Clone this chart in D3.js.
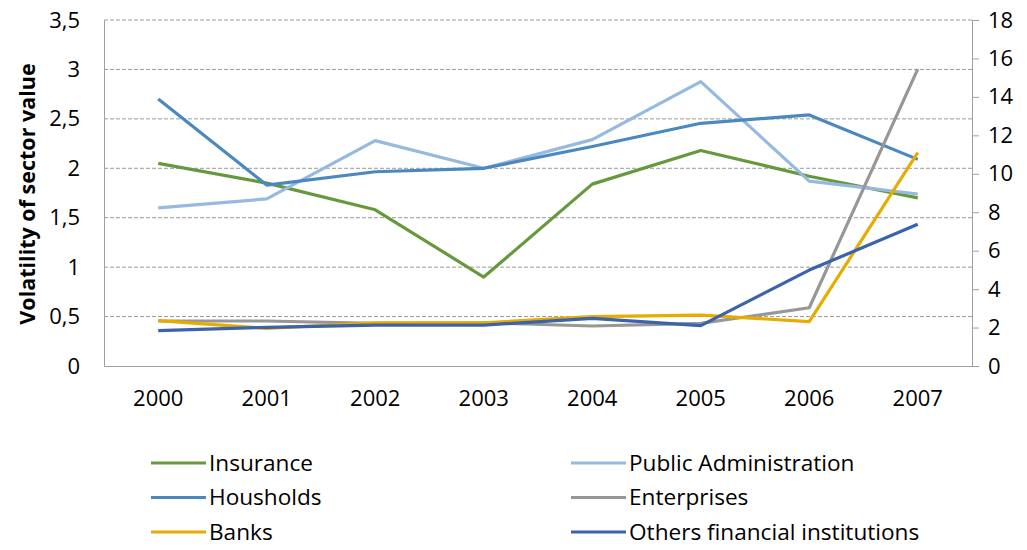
<!DOCTYPE html>
<html><head><meta charset="utf-8">
<script src="https://cdn.jsdelivr.net/npm/d3@7"></script>
<style>
body{margin:0;background:#fff;}
svg{display:block;font-family:"Open Sans",Lato,sans-serif;}
</style></head>
<body><svg id="c" width="1027" height="550"></svg>
<script>
const years = ["2000","2001","2002","2003","2004","2005","2006","2007"];
const leftTicks = [0,0.5,1,1.5,2,2.5,3,3.5];
const rightTicks = [0,2,4,6,8,10,12,14,16,18];
// primary axis series
const insurance = [2.05,1.85,1.58,0.90,1.84,2.18,1.92,1.70];
const publicAdmin = [1.60,1.69,2.28,2.00,2.29,2.876,1.87,1.74];
const households = [2.70,1.83,1.965,2.00,2.22,2.455,2.54,2.09];
// secondary axis series
const enterprises = [2.34,2.34,2.22,2.25,2.08,2.22,3.03,15.44];
const banks = [2.36,1.96,2.25,2.25,2.57,2.65,2.31,11.10];
const others = [1.84,2.01,2.13,2.13,2.48,2.10,4.99,7.37];

const series = [
  {name:"Insurance", values:insurance, axis:"L", color:"#66993c"},
  {name:"Public Administration", values:publicAdmin, axis:"L", color:"#95b9e1"},
  {name:"Housholds", values:households, axis:"L", color:"#4a88bf"},
  {name:"Enterprises", values:enterprises, axis:"R", color:"#979797"},
  {name:"Banks", values:banks, axis:"R", color:"#e8ab00"},
  {name:"Others financial institutions", values:others, axis:"R", color:"#3a63ab"}
];

const svg = d3.select("#c");
const x = d3.scaleBand().domain(years).range([104,972]);
const yL = d3.scaleLinear().domain([0,3.5]).range([366,20]);
const yR = d3.scaleLinear().domain([0,18]).range([366,20]);
const grey = "#a0a0a0";
const FS = 22;

// gridlines
svg.append("g").selectAll("line").data(leftTicks.filter(d=>d>0)).join("line")
  .attr("x1",104).attr("x2",972).attr("y1",d=>yL(d)).attr("y2",d=>yL(d))
  .attr("stroke","#9a9a9a").attr("stroke-width",1).attr("stroke-dasharray","4,2");

// left axis
const gL = svg.append("g").attr("transform","translate(104,0)")
  .call(d3.axisLeft(yL).tickValues(leftTicks).tickSize(0).tickPadding(24)
    .tickFormat(d=>String(d).replace(".",",")));
gL.select(".domain").attr("stroke",grey);
gL.selectAll("text").attr("font-size",FS).attr("fill","#000").attr("font-family","Open Sans");

// right axis
const gR = svg.append("g").attr("transform","translate(972,0)")
  .call(d3.axisRight(yR).tickValues(rightTicks).tickSize(7).tickSizeOuter(0).tickPadding(9));
gR.select(".domain").attr("stroke",grey);
gR.selectAll(".tick line").attr("stroke",grey);
gR.selectAll("text").attr("font-size",FS).attr("fill","#000").attr("font-family","Open Sans");

// bottom axis
const gB = svg.append("g").attr("transform","translate(0,366)")
  .call(d3.axisBottom(x).tickSize(0).tickPadding(24));
gB.select(".domain").attr("stroke",grey);
gB.selectAll("text").attr("font-size",FS).attr("fill","#000").attr("font-family","Open Sans");

// y title
svg.append("text").attr("transform","translate(27,194) rotate(-90)")
  .attr("text-anchor","middle").attr("dy","0.35em").attr("font-weight","bold").attr("font-size",21.5)
  .text("Volatility of sector value");

// lines
series.forEach(s=>{
  const ys = s.axis==="L"?yL:yR;
  const line = d3.line().x((d,i)=>x(years[i])+x.bandwidth()/2).y(d=>ys(d));
  svg.append("path").datum(s.values).attr("d",line)
    .attr("fill","none").attr("stroke",s.color).attr("stroke-width",3.2)
    .attr("stroke-linejoin","round");
});

// legend
const lg = svg.append("g");
series.forEach((s,i)=>{
  const col = i%2, row = Math.floor(i/2);
  const lx = col===0?151:571, ly = 463+row*34.5;
  lg.append("line").attr("x1",lx).attr("x2",lx+55).attr("y1",ly).attr("y2",ly)
    .attr("stroke",s.color).attr("stroke-width",3.2);
  lg.append("text").attr("x",lx+58).attr("y",ly).attr("dy","0.35em")
    .attr("font-size",22.6).text(s.name);
});
</script></body></html>
